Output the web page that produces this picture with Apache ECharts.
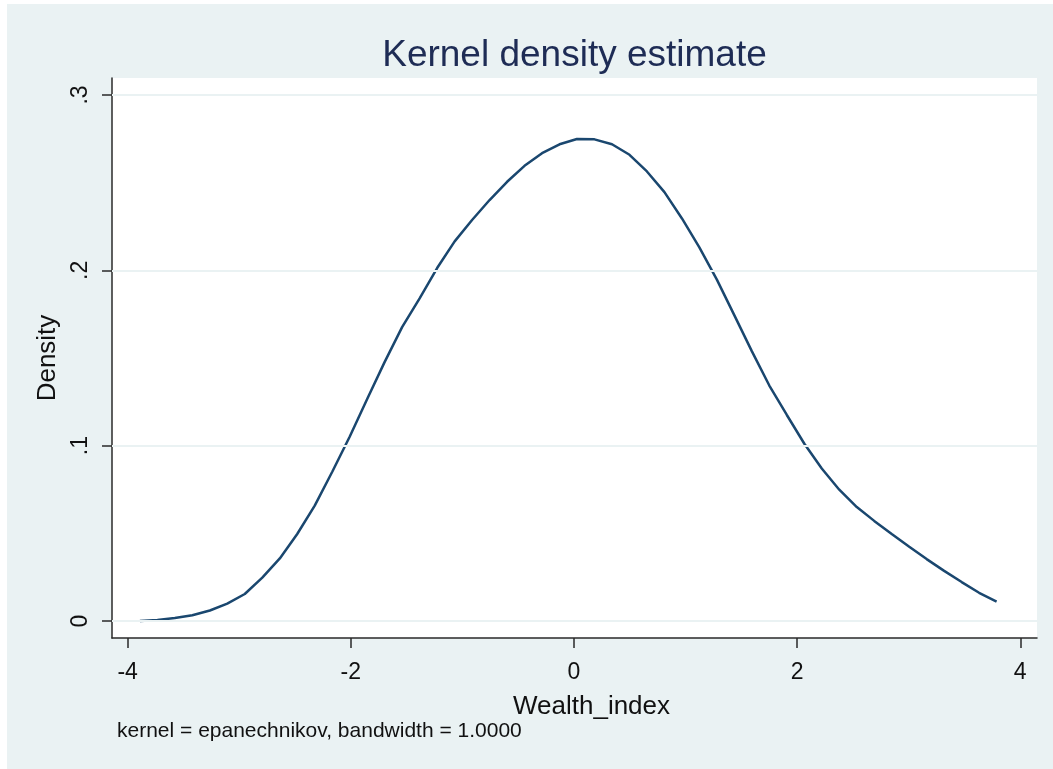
<!DOCTYPE html>
<html>
<head>
<meta charset="utf-8">
<script src="https://cdn.jsdelivr.net/npm/echarts@6/dist/echarts.min.js"></script>
<style>
  html, body { margin: 0; padding: 0; background: #ffffff; }
  #chart { position: absolute; left: 7px; top: 4px; width: 1046px; height: 765px; }
</style>
</head>
<body>
<div id="chart"></div>
<script>
// Evaluation grid of the kernel density estimate (Wealth_index)
const wealthIndex = [
  -3.890, -3.733, -3.577, -3.420, -3.263, -3.107, -2.950, -2.793, -2.636, -2.480,
  -2.323, -2.166, -2.010, -1.853, -1.696, -1.540, -1.383, -1.226, -1.069, -0.913,
  -0.756, -0.599, -0.443, -0.286, -0.129,  0.027,  0.184,  0.341,  0.498,  0.654,
   0.811,  0.968,  1.124,  1.281,  1.438,  1.594,  1.751,  1.908,  2.065,  2.221,
   2.378,  2.535,  2.691,  2.848,  3.005,  3.161,  3.318,  3.475,  3.631,  3.788
];

// Estimated density at each grid point
const density = [
  0.0000, 0.0006, 0.0017, 0.0033, 0.0060, 0.0099, 0.0154, 0.0247, 0.0357, 0.0496,
  0.0658, 0.0851, 0.1051, 0.1266, 0.1478, 0.1676, 0.1840, 0.2013, 0.2165, 0.2287,
  0.2401, 0.2505, 0.2596, 0.2668, 0.2719, 0.2749, 0.2747, 0.2719, 0.2659, 0.2564,
  0.2446, 0.2296, 0.2131, 0.1947, 0.1743, 0.1539, 0.1343, 0.1175, 0.1011, 0.0870,
  0.0749, 0.0650, 0.0571, 0.0496, 0.0423, 0.0353, 0.0286, 0.0222, 0.0161, 0.0111
];

// Axis ticks
const xTicks = [-4, -2, 0, 2, 4];
const yTicks = [0, 0.1, 0.2, 0.3];
const yTickLabels = ['0', '.1', '.2', '.3'];

const titleText = 'Kernel density estimate';
const xTitle = 'Wealth_index';
const yTitle = 'Density';
const noteText = 'kernel = epanechnikov, bandwidth = 1.0000';

const BG = '#EAF2F3';
const NAVY = '#1A476F';
const FONT = '"Liberation Sans", Arial, Helvetica, sans-serif';

const chart = echarts.init(document.getElementById('chart'), null, { renderer: 'canvas' });

const points = wealthIndex.map((x, i) => [x, density[i]]);

chart.setOption({
  backgroundColor: BG,
  animation: false,
  title: {
    text: titleText,
    left: 567.5,
    top: 33,
    padding: 0,
    textAlign: 'center',
    textStyle: { fontFamily: FONT, fontSize: 37, fontWeight: 'normal', color: '#1E2C55' }
  },
  grid: {
    left: 105, right: 16, top: 74, bottom: 131,
    show: true, backgroundColor: '#ffffff', borderWidth: 0
  },
  xAxis: {
    type: 'value',
    min: -4.14, max: 4.15,
    name: xTitle,
    nameLocation: 'middle',
    nameGap: 56,
    nameTextStyle: { fontFamily: FONT, fontSize: 26, color: '#111', padding: [0, 0, 0, 34] },
    axisLine: { show: true, onZero: false, lineStyle: { color: '#2a2a2a', width: 1.5 } },
    axisTick: { show: true, length: 10, customValues: xTicks, lineStyle: { color: '#2a2a2a', width: 1.5 } },
    axisLabel: {
      customValues: xTicks, margin: 23,
      fontFamily: FONT, fontSize: 23, color: '#111'
    },
    splitLine: { show: false }
  },
  yAxis: {
    type: 'value',
    min: -0.0097, max: 0.3097,
    name: yTitle,
    nameLocation: 'middle',
    nameRotate: 90,
    nameGap: 46,
    nameTextStyle: { fontFamily: FONT, fontSize: 26, color: '#111' },
    axisLine: { show: true, onZero: false, lineStyle: { color: '#2a2a2a', width: 1.5 } },
    axisTick: { show: true, length: 10, customValues: yTicks, lineStyle: { color: '#2a2a2a', width: 1.5 } },
    axisLabel: {
      customValues: yTicks, margin: 20, rotate: 90,
      fontFamily: FONT, fontSize: 23, color: '#111',
      formatter: v => yTickLabels[yTicks.findIndex(t => Math.abs(t - v) < 1e-9)] ?? ''
    },
    splitLine: { show: false }
  },
  graphic: [{
    type: 'text',
    left: 110,
    top: 717,
    style: { text: noteText, fontFamily: FONT, fontSize: 21, fill: '#111' }
  }],
  series: [
    {
      // horizontal reference lines at the y ticks
      type: 'line',
      data: [],
      z: 1,
      silent: true,
      markLine: {
        silent: true,
        symbol: 'none',
        label: { show: false },
        lineStyle: { color: BG, width: 2, type: 'solid' },
        data: yTicks.map(v => ({ yAxis: v }))
      }
    },
    {
      type: 'line',
      data: points,
      z: 3,
      showSymbol: false,
      smooth: false,
      lineStyle: { color: NAVY, width: 2.5 }
    }
  ]
});
</script>
</body>
</html>
